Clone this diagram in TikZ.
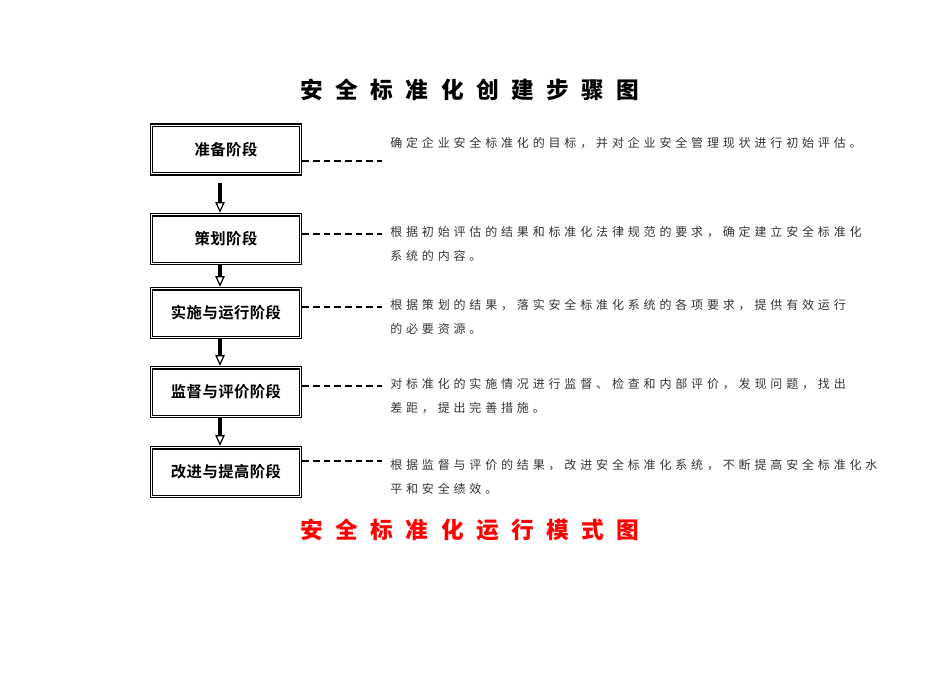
\documentclass[tikz,border=0pt]{standalone}
\usepackage{fontspec}
\setmainfont{Noto Sans CJK SC}
\newfontfamily\cjkb[LetterSpace=3]{Noto Sans CJK SC Bold}
\newfontfamily\cjkt[LetterSpace=32]{Noto Sans CJK SC}
\usetikzlibrary{arrows.meta}
\begin{document}
\begin{tikzpicture}[x=0.75pt,y=-0.75pt,
  stage/.style={draw,line width=1pt,minimum width=151.5*0.75pt,minimum height=51*0.75pt,inner sep=0pt,font=\cjkb\fontsize{11.5pt}{13pt}\selectfont,
    append after command={\pgfextra{\draw[line width=0.9pt] ([shift={(2.3pt,-2.3pt)}]\tikzlastnode.north west) rectangle ([shift={(-2.3pt,2.3pt)}]\tikzlastnode.south east);}}},
  desc/.style={anchor=north west,align=left,text=black!80,font=\cjkt\fontsize{9pt}{18pt}\selectfont,inner sep=0pt},
  flow/.style={line width=2.6pt,-{Triangle[open,length=8pt,width=7pt,line width=0.9pt]}},
  lead/.style={dashed,dash pattern=on 5pt off 3pt,line width=0.9pt},
  ttl/.style={font=\bfseries\fontsize{17pt}{20pt}\selectfont}]
\useasboundingbox (0,0) rectangle (950,672);
\node[ttl] (title) at (470,90) {安\hspace{0.55em}全\hspace{0.55em}标\hspace{0.55em}准\hspace{0.55em}化\hspace{0.55em}创\hspace{0.55em}建\hspace{0.55em}步\hspace{0.55em}骤\hspace{0.55em}图};
\node[stage] (s1) at (226,149.5) {准备阶段};
\node[stage] (s2) at (226,239) {策划阶段};
\node[stage] (s3) at (226,313) {实施与运行阶段};
\node[stage] (s4) at (226,392) {监督与评价阶段};
\node[stage] (s5) at (226,472) {改进与提高阶段};
\coordinate (a1) at (220,183);
\draw[flow] (a1) -- (s2.north -| a1);
\draw[flow] (s2.south -| a1) -- (s3.north -| a1);
\draw[flow] (s3.south -| a1) -- (s4.north -| a1);
\draw[flow] (s4.south -| a1) -- (s5.north -| a1);
\node[desc] (d1) at (390,137) {确定企业安全标准化的目标，并对企业安全管理现状进行初始评估。};
\node[desc] (d2) at (390,226) {根据初始评估的结果和标准化法律规范的要求，确定建立安全标准化\\系统的内容。};
\node[desc] (d3) at (390,299) {根据策划的结果，落实安全标准化系统的各项要求，提供有效运行\\的必要资源。};
\node[desc] (d4) at (390,378) {对标准化的实施情况进行监督、检查和内部评价，发现问题，找出\\差距，提出完善措施。};
\node[desc] (d5) at (390,459) {根据监督与评价的结果，改进安全标准化系统，不断提高安全标准化水\\平和安全绩效。};
\coordinate (e1) at (382,161);
\draw[lead] (s1.east |- e1) -- (e1);
\draw[lead] (s2.east |- 0,234) -- (382,234);
\draw[lead] (s3.east |- 0,307) -- (382,307);
\draw[lead] (s4.east |- 0,386) -- (382,386);
\draw[lead] (s5.east |- 0,461) -- (382,461);
\node[ttl,text=red] (title2) at (470,530) {安\hspace{0.55em}全\hspace{0.55em}标\hspace{0.55em}准\hspace{0.55em}化\hspace{0.55em}运\hspace{0.55em}行\hspace{0.55em}模\hspace{0.55em}式\hspace{0.55em}图};
\end{tikzpicture}
\end{document}
